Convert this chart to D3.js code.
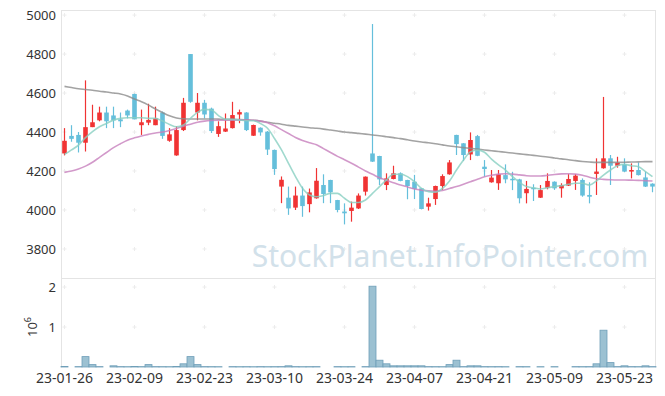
<!DOCTYPE html>
<html>
<head>
<meta charset="utf-8">
<script src="https://cdn.jsdelivr.net/npm/d3@7"></script>
<style>
    html, body { margin: 0; padding: 0; background: #ffffff; }
    svg text { font-family: "Noto Sans", "Open Sans", sans-serif; }
</style>
</head>
<body>
<div id="chart"></div>
<script>
// Trading days (yy-mm-dd)
const dates = [
    "23-01-26", "23-01-27", "23-01-30", "23-01-31", "23-02-01", "23-02-02", "23-02-03", "23-02-06", "23-02-07", "23-02-08",
    "23-02-09", "23-02-10", "23-02-13", "23-02-14", "23-02-15", "23-02-16", "23-02-17", "23-02-20", "23-02-21", "23-02-22",
    "23-02-23", "23-02-24", "23-02-27", "23-02-28", "23-03-02", "23-03-03", "23-03-06", "23-03-07", "23-03-08", "23-03-09",
    "23-03-10", "23-03-13", "23-03-14", "23-03-15", "23-03-16", "23-03-17", "23-03-20", "23-03-21", "23-03-22", "23-03-23",
    "23-03-24", "23-03-27", "23-03-28", "23-03-29", "23-03-30", "23-03-31", "23-04-03", "23-04-04", "23-04-05", "23-04-06",
    "23-04-07", "23-04-10", "23-04-11", "23-04-12", "23-04-13", "23-04-14", "23-04-17", "23-04-18", "23-04-19", "23-04-20",
    "23-04-21", "23-04-24", "23-04-25", "23-04-26", "23-04-27", "23-04-28", "23-05-02", "23-05-03", "23-05-04", "23-05-08",
    "23-05-09", "23-05-10", "23-05-11", "23-05-12", "23-05-15", "23-05-16", "23-05-17", "23-05-18", "23-05-19", "23-05-22",
    "23-05-23", "23-05-24", "23-05-25", "23-05-26", "23-05-30"
];

const open = [
    4290, 4380, 4385, 4345, 4425, 4460, 4500, 4485, 4465, 4510,
    4595, 4435, 4448, 4435, 4500, 4355, 4280, 4410, 4800, 4500,
    4550, 4520, 4390, 4402, 4420, 4490, 4500, 4381, 4422, 4402,
    4308, 4120, 4063, 4012, 4074, 4030, 4060, 4128, 4154, 4051,
    3992, 3995, 4008, 4094, 4290, 4277, 4128, 4159, 4188, 4154,
    4145, 4111, 4017, 4056, 4123, 4183, 4385, 4342, 4285, 4379,
    4222, 4142, 4137, 4179, 4160, 4157, 4086, 4114, 4063, 4114,
    4145, 4111, 4125, 4149, 4154, 4077, 4185, 4214, 4265, 4227,
    4234, 4197, 4205, 4167, 4135
];

const high = [
    4420, 4435, 4400, 4665, 4540, 4530, 4530, 4530, 4500, 4515,
    4597, 4515, 4545, 4530, 4505, 4420, 4430, 4575, 4800, 4600,
    4565, 4525, 4455, 4495, 4555, 4515, 4502, 4438, 4424, 4405,
    4310, 4172, 4120, 4120, 4120, 4110, 4215, 4183, 4155, 4052,
    4034, 4043, 4085, 4172, 4954, 4278, 4188, 4227, 4193, 4155,
    4180, 4112, 4063, 4125, 4183, 4256, 4386, 4343, 4398, 4385,
    4256, 4205, 4205, 4234, 4196, 4160, 4149, 4132, 4128, 4188,
    4147, 4137, 4184, 4184, 4162, 4142, 4265, 4580, 4282, 4273,
    4265, 4239, 4244, 4197, 4137
];

const low = [
    4280, 4350, 4295, 4300, 4425, 4455, 4420, 4420, 4425, 4470,
    4465, 4385, 4435, 4435, 4365, 4350, 4278, 4405, 4550, 4460,
    4470, 4395, 4375, 4400, 4418, 4445, 4405, 4380, 4381, 4282,
    4180, 4035, 3975, 4000, 3965, 3988, 4058, 4035, 4035, 3988,
    3926, 3940, 4005, 4074, 4246, 4128, 4102, 4157, 4147, 4055,
    4056, 4003, 3997, 4026, 4103, 4181, 4282, 4251, 4256, 4276,
    4171, 4140, 4103, 4137, 4102, 4034, 4034, 4046, 4062, 4106,
    4103, 4063, 4123, 4103, 4068, 4034, 4077, 4212, 4128, 4217,
    4195, 4162, 4177, 4118, 4091
];

const close = [
    4355, 4365, 4345, 4425, 4450, 4500, 4455, 4460, 4455, 4485,
    4465, 4450, 4462, 4470, 4380, 4388, 4410, 4550, 4555, 4550,
    4490, 4405, 4430, 4418, 4487, 4502, 4410, 4436, 4398, 4310,
    4210, 4155, 4008, 4074, 4020, 4090, 4150, 4082, 4091, 4000,
    3983, 4012, 4074, 4171, 4248, 4157, 4162, 4188, 4149, 4123,
    4108, 4005, 4034, 4123, 4174, 4244, 4338, 4282, 4359, 4278,
    4210, 4166, 4183, 4157, 4155, 4060, 4108, 4108, 4102, 4149,
    4111, 4128, 4159, 4176, 4074, 4068, 4197, 4265, 4227, 4243,
    4197, 4205, 4179, 4120, 4120
];

const volume = [
    12000, 0, 10000, 260000, 60000, 10000, 0, 30000, 10000, 8000,
    12000, 9000, 60000, 10000, 9000, 8000, 12000, 80000, 260000, 60000,
    10000, 9000, 8000, 0, 10000, 8000, 9000, 7000, 10000, 8000,
    9000, 10000, 30000, 10000, 8000, 9000, 10000, 0, 0, 10000,
    8000, 9000, 0, 10000, 2020000, 170000, 80000, 30000, 30000, 30000,
    30000, 30000, 10000, 9000, 8000, 60000, 170000, 10000, 30000, 30000,
    10000, 9000, 10000, 8000, 0, 10000, 9000, 0, 8000, 0,
    9000, 0, 0, 10000, 9000, 10000, 80000, 920000, 110000, 10000,
    30000, 10000, 9000, 30000, 10000
];

// Moving averages as drawn in the reference
const ma5 = [
    4285, 4308, 4333, 4371, 4402, 4427, 4444, 4461, 4470, 4473,
    4473, 4473, 4470, 4470, 4456, 4439, 4427, 4436, 4470, 4501,
    4516, 4513, 4484, 4465, 4465, 4461, 4458, 4458, 4444, 4419,
    4367, 4308, 4239, 4171, 4111, 4077, 4068, 4074, 4085, 4085,
    4060, 4038, 4038, 4051, 4085, 4120, 4154, 4183, 4183, 4171,
    4145, 4111, 4094, 4091, 4111, 4149, 4205, 4256, 4299, 4307,
    4296, 4261, 4231, 4205, 4171, 4142, 4120, 4114, 4108, 4114,
    4120, 4125, 4132, 4137, 4137, 4128, 4149, 4179, 4205, 4227,
    4234, 4227, 4222, 4197, 4171
];

const ma20 = [
    4193, 4200, 4210, 4225, 4245, 4270, 4295, 4320, 4340, 4358,
    4370, 4380, 4388, 4395, 4400, 4408, 4418, 4430, 4440, 4450,
    4456, 4459, 4460, 4460, 4461, 4461, 4461, 4460, 4456, 4448,
    4432, 4412, 4392, 4372, 4357, 4345, 4335, 4315, 4295, 4275,
    4258, 4240, 4220, 4200, 4183, 4165, 4152, 4140, 4128, 4118,
    4108, 4102, 4098, 4096, 4100, 4110, 4120, 4132, 4145, 4158,
    4170, 4178, 4184, 4186, 4184, 4180, 4176, 4174, 4174, 4178,
    4182, 4185, 4186, 4184, 4178, 4168, 4160, 4157, 4155, 4154,
    4154, 4153, 4152, 4150, 4149
];

const ma60 = [
    4634, 4628, 4622, 4618, 4614, 4609, 4605, 4600, 4595, 4585,
    4569, 4555, 4538, 4518, 4500, 4483, 4472, 4468, 4467, 4467,
    4467, 4467, 4466, 4465, 4465, 4464, 4462, 4460, 4456, 4450,
    4445, 4440, 4434, 4430, 4426, 4422, 4419, 4415, 4410, 4405,
    4400, 4397, 4393, 4389, 4385, 4381, 4376, 4371, 4366, 4360,
    4354, 4349, 4345, 4340, 4334, 4328, 4324, 4320, 4316, 4312,
    4308, 4304, 4300, 4296, 4292, 4288, 4284, 4280, 4276, 4272,
    4267, 4262, 4258, 4253, 4249, 4246, 4244, 4244, 4244, 4244,
    4245, 4246, 4247, 4248, 4248
];

const priceTicks  = [3800, 4000, 4200, 4400, 4600, 4800, 5000];
const volumeTicks = [1e6, 2e6];
const dateTicks   = dates.filter((d, i) => i % 10 === 0);

const WIDTH  = 665;
const HEIGHT = 396;

const PLOT_LEFT     = 61;
const PLOT_RIGHT    = 656;
const PRICE_TOP     = 10;
const PRICE_BOTTOM  = 278;
const VOLUME_BOTTOM = 367;

const COLOR_UP   = "#f03333";
const COLOR_DOWN = "#65bfdb";
const COLOR_GRID = "#e4e4e4";

/**
 * Draws the candle chart with the volume panel below.
 */
class Chart
{
    constructor(parent)
    {
        this._parent = parent;
        this._data   = dates.map((d, i) => ({
            date:   d,
            open:   open[i],
            high:   high[i],
            low:    low[i],
            close:  close[i],
            volume: volume[i],
            ma5:    ma5[i],
            ma20:   ma20[i],
            ma60:   ma60[i]
        }));
    }

    draw()
    {
        this._svg = this._parent
            .append("svg")
            .attr("width", WIDTH)
            .attr("height", HEIGHT);

        this._x = d3.scaleBand()
            .domain(dates)
            .range([PLOT_LEFT, PLOT_RIGHT]);

        this._y = d3.scaleLinear()
            .domain([3651, 5026])
            .range([PRICE_BOTTOM, PRICE_TOP]);

        this._yVolume = d3.scaleLinear()
            .domain([0, 2.225e6])
            .range([VOLUME_BOTTOM, PRICE_BOTTOM]);

        this.drawFrame();
        this.drawWatermark();
        this.drawCandles();
        this.drawAverages();
        this.drawVolume();
        this.drawAxes();
    }

    center(d)
    {
        return this._x(d) + (this._x.bandwidth() / 2);
    }

    drawFrame()
    {
        let svg = this._svg;

        svg.append("g")
            .attr("stroke", COLOR_GRID)
            .selectAll("line")
            .data([
                [PLOT_LEFT, PRICE_TOP, PLOT_RIGHT, PRICE_TOP],
                [PLOT_LEFT, PRICE_BOTTOM, PLOT_RIGHT, PRICE_BOTTOM],
                [PLOT_LEFT + 0.5, PRICE_TOP, PLOT_LEFT + 0.5, VOLUME_BOTTOM],
                [PLOT_RIGHT - 0.5, PRICE_TOP, PLOT_RIGHT - 0.5, VOLUME_BOTTOM]
            ])
            .join("line")
            .attr("x1", (d) => d[0])
            .attr("y1", (d) => d[1] + 0.5)
            .attr("x2", (d) => d[2])
            .attr("y2", (d) => d[3] + 0.5);

        // Faint "+" marks at grid crossings
        let crossings = [];

        dateTicks.forEach((d) => {
            priceTicks.forEach((p) => crossings.push([this.center(d), this._y(p)]));
            volumeTicks.forEach((v) => crossings.push([this.center(d), this._yVolume(v)]));
        });

        svg.append("g")
            .attr("stroke", "#ececec")
            .selectAll("path")
            .data(crossings)
            .join("path")
            .attr("d", (d) => "M" + (d[0] - 2) + "," + d[1] + "h4M" + d[0] + "," + (d[1] - 2) + "v4");
    }

    drawWatermark()
    {
        this._svg.append("text")
            .attr("x", 450)
            .attr("y", 267)
            .attr("text-anchor", "middle")
            .attr("font-size", 30)
            .attr("fill", "#d2e1ea")
            .text("StockPlanet.InfoPointer.com");
    }

    drawCandles()
    {
        let bodyWidth = this._x.bandwidth() * 0.66;
        let candles   = this._svg.append("g")
            .selectAll("g")
            .data(this._data)
            .join("g")
            .attr("fill", (d) => d.close >= d.open ? COLOR_UP : COLOR_DOWN)
            .attr("stroke", (d) => d.close >= d.open ? COLOR_UP : COLOR_DOWN);

        candles.append("line")
            .attr("x1", (d) => this.center(d.date))
            .attr("x2", (d) => this.center(d.date))
            .attr("y1", (d) => this._y(d.high))
            .attr("y2", (d) => this._y(d.low))
            .attr("stroke-width", 1.2);

        candles.append("rect")
            .attr("stroke", "none")
            .attr("x", (d) => this.center(d.date) - (bodyWidth / 2))
            .attr("width", bodyWidth)
            .attr("y", (d) => this._y(Math.max(d.open, d.close)))
            .attr("height", (d) => Math.max(1.5, Math.abs(this._y(d.open) - this._y(d.close))));
    }

    drawAverages()
    {
        let lines = [
            { key: "ma60", color: "#8c8c8c" },
            { key: "ma20", color: "#c77fbd" },
            { key: "ma5",  color: "#88cfc2" }
        ];

        lines.forEach((l) => {
            let line = d3.line()
                .x((d) => this.center(d.date))
                .y((d) => this._y(d[l.key]))
                .curve(d3.curveMonotoneX);

            this._svg.append("path")
                .datum(this._data)
                .attr("fill", "none")
                .attr("stroke", l.color)
                .attr("stroke-width", 1.6)
                .attr("stroke-opacity", 0.8)
                .attr("d", line);
        });
    }

    drawVolume()
    {
        this._svg.append("g")
            .selectAll("rect")
            .data(this._data.filter((d) => d.volume > 0))
            .join("rect")
            .attr("x", (d) => this._x(d.date))
            .attr("width", this._x.bandwidth())
            .attr("y", (d) => this._yVolume(d.volume))
            .attr("height", (d) => VOLUME_BOTTOM - this._yVolume(d.volume))
            .attr("fill", "#9cc1d2")
            .attr("stroke", "#6f9fb8")
            .attr("stroke-width", 0.8);
    }

    drawAxes()
    {
        let svg = this._svg;

        let priceAxis = svg.append("g")
            .attr("transform", "translate(" + PLOT_LEFT + ",0)")
            .call(d3.axisLeft(this._y)
                .tickValues(priceTicks)
                .tickFormat(d3.format("d"))
                .tickSize(0)
                .tickPadding(5));

        let volumeAxis = svg.append("g")
            .attr("transform", "translate(" + PLOT_LEFT + ",0)")
            .call(d3.axisLeft(this._yVolume)
                .tickValues(volumeTicks)
                .tickFormat((v) => v / 1e6)
                .tickSize(0)
                .tickPadding(5));

        let dateAxis = svg.append("g")
            .attr("transform", "translate(0," + VOLUME_BOTTOM + ")")
            .call(d3.axisBottom(this._x).tickValues(dateTicks).tickSize(0).tickPadding(6));

        [priceAxis, volumeAxis, dateAxis].forEach((axis) => {
            axis.select(".domain").remove();
            axis.selectAll("text")
                .attr("fill", "#333333")
                .attr("font-size", 13)
                .attr("font-family", "\"Noto Sans\", sans-serif");
        });

        dateAxis.selectAll("text").attr("font-size", 14);

        // Volume unit label: 10^6, rotated
        let unit = svg.append("text")
            .attr("transform", "translate(37,327) rotate(-90)")
            .attr("fill", "#333333")
            .attr("font-size", 13)
            .attr("text-anchor", "middle");

        unit.append("tspan").text("10");
        unit.append("tspan")
            .attr("font-size", 9)
            .attr("dy", -6)
            .text("6");
    }
}

let chart = new Chart(d3.select("#chart"));
chart.draw();
</script>
</body>
</html>
